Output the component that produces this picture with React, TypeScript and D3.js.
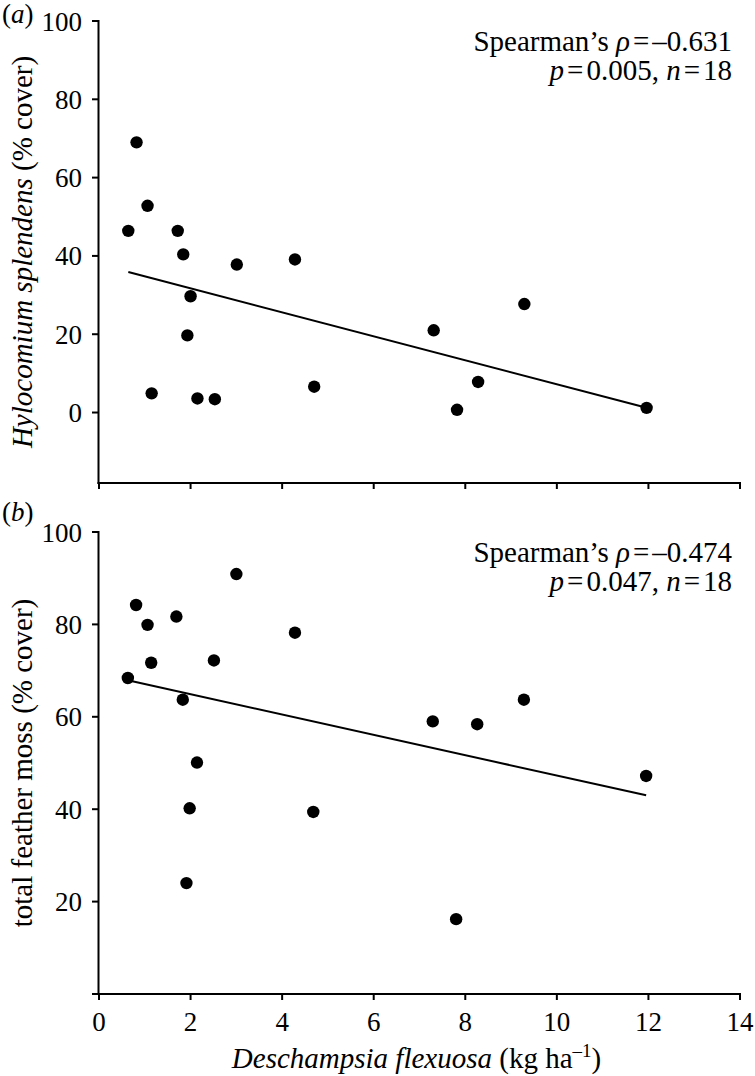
import React from "react";
import * as d3 from "d3";

const xA = [0.64, 0.82, 1.06, 1.15, 1.72, 1.84, 2.0, 1.93, 2.15, 2.53, 3.01, 4.28, 4.7, 7.31, 7.82, 8.28, 9.29, 11.96];
const yA = [46.4, 69.0, 52.8, 4.9, 46.4, 40.4, 29.7, 19.7, 3.6, 3.4, 37.8, 39.1, 6.6, 21.0, 0.7, 7.8, 27.7, 1.2];
const xB = [0.63, 0.81, 1.06, 1.14, 1.69, 1.83, 3.0, 2.51, 2.14, 1.98, 4.28, 4.68, 1.91, 7.8, 7.29, 8.26, 9.28, 11.95];
const yB = [68.4, 84.2, 79.9, 71.7, 81.7, 63.7, 90.9, 72.2, 50.1, 40.2, 78.2, 39.4, 24.0, 16.2, 59.0, 58.4, 63.7, 47.2];
const fitA = [[0.64, 35.9], [11.96, 1.2]];
const fitB = [[0.63, 67.9], [11.95, 43.0]];
const xTicks = [0, 2, 4, 6, 8, 10, 12, 14];
const yTicksA = [0, 20, 40, 60, 80, 100];
const yTicksB = [20, 40, 60, 80, 100];

const FONT = "'Liberation Serif', 'Times New Roman', serif";
const TICK_FS = 27;
const LAB_FS = 29;

const x = d3.scaleLinear().domain([0, 14]).range([99, 740]);
const yAs = d3.scaleLinear().domain([-18, 100]).range([483, 21]);
const yBs = d3.scaleLinear().domain([0, 100]).range([994, 532]);

function Panel({ xs, ys, fit, yScale, yTicks, letter, ylabel, rho, p, zeroTick }) {
  const [r0, r1] = yScale.range();
  const line = d3.line().x((d) => x(d[0])).y((d) => yScale(d[1]));
  const axisY = r0;
  const top = r1;
  return (
    <g>
      <line x1={x(0) - 0.5} x2={x(0) - 0.5} y1={top - 1} y2={axisY + 1} stroke="#000" strokeWidth={2} />
      {yTicks.map((t) => (
        <g key={t}>
          <line x1={x(0) - 7} x2={x(0)} y1={yScale(t)} y2={yScale(t)} stroke="#000" strokeWidth={2} />
          <text x={82} y={yScale(t) + 9.5} textAnchor="end" fontSize={TICK_FS}>{t}</text>
        </g>
      ))}
      <line x1={zeroTick ? x(0) - 7 : x(0) - 1.5} x2={x(14) + 1} y1={axisY} y2={axisY} stroke="#000" strokeWidth={2} />
      {xTicks.map((t) => (
        <line key={t} x1={x(t)} x2={x(t)} y1={axisY} y2={axisY + 6} stroke="#000" strokeWidth={2} />
      ))}
      <path d={line(fit)} fill="none" stroke="#000" strokeWidth={2} />
      {xs.map((v, i) => (
        <circle key={i} cx={x(v)} cy={yScale(ys[i])} r={6.2} fill="#000" />
      ))}
      <text x={2} y={top + (letter === "a" ? 2 : -11)} fontSize={TICK_FS}>
        (<tspan fontStyle="italic">{letter}</tspan>)
      </text>
      <text transform={`translate(${32},${(top + axisY) / 2}) rotate(-90)`} textAnchor="middle" fontSize={LAB_FS}>
        {ylabel}
      </text>
      <text x={732} y={top + 30} textAnchor="end" fontSize={LAB_FS}>
        Spearman’s <tspan fontStyle="italic">ρ</tspan><tspan dx={3}>=</tspan><tspan dx={3}>–{rho}</tspan>
      </text>
      <text x={732} y={top + 59} textAnchor="end" fontSize={LAB_FS}>
        <tspan fontStyle="italic">p</tspan><tspan dx={3}>=</tspan><tspan dx={3}>{p},</tspan> <tspan fontStyle="italic">n</tspan><tspan dx={3}>=</tspan><tspan dx={3}>18</tspan>
      </text>
    </g>
  );
}

export default function App() {
  return (
    <svg width={755} height={1076} style={{ position: "absolute", left: 0, top: 0, background: "#fff" }} fontFamily={FONT}>
      <rect width={755} height={1076} fill="#fff" />
      <Panel
        xs={xA}
        ys={yA}
        fit={fitA}
        yScale={yAs}
        yTicks={yTicksA}
        letter="a"
        ylabel={<><tspan fontStyle="italic">Hylocomium splendens</tspan> (% cover)</>}
        rho="0.631"
        p="0.005"
        zeroTick={false}
      />
      <Panel
        xs={xB}
        ys={yB}
        fit={fitB}
        yScale={yBs}
        yTicks={yTicksB}
        letter="b"
        ylabel={<>total feather moss (% cover)</>}
        rho="0.474"
        p="0.047"
        zeroTick={true}
      />
      {xTicks.map((t) => (
        <text key={t} x={x(t)} y={1031} textAnchor="middle" fontSize={TICK_FS}>{t}</text>
      ))}
      <text x={(x(0) + x(14)) / 2 - 3} y={1068} textAnchor="middle" fontSize={LAB_FS}>
        <tspan fontStyle="italic">Deschampsia flexuosa</tspan> (kg ha<tspan fontSize={19} dy={-11}>–1</tspan><tspan dy={11}>)</tspan>
      </text>
    </svg>
  );
}
